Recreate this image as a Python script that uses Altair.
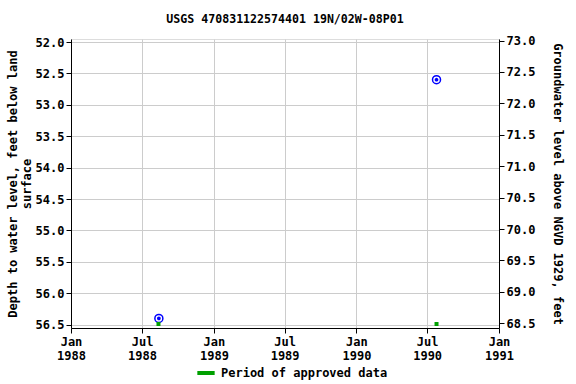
import altair as alt
import pandas as pd

dates = ["1988-08-13", "1990-07-25"]
depth = [56.40, 52.60]
approved_dates = ["1988-08-12", "1990-07-25"]
approved_label = ["Period of approved data", "Period of approved data"]
tick_dates = ["1988-01-01", "1988-07-01", "1989-01-01", "1989-07-01",
              "1990-01-01", "1990-07-01", "1991-01-01"]
left_ticks = [52.0, 52.5, 53.0, 53.5, 54.0, 54.5, 55.0, 55.5, 56.0, 56.5]
right_ticks = [73.0, 72.5, 72.0, 71.5, 71.0, 70.5, 70.0, 69.5, 69.0, 68.5]
datum_offset = 125.0

obs = pd.DataFrame({"date": pd.to_datetime(dates), "depth": depth})
obs["elev"] = datum_offset - obs["depth"]
appr = pd.DataFrame({"date": pd.to_datetime(approved_dates), "status": approved_label})

FONT = "DejaVu Sans Mono"
AX = dict(labelFont=FONT, labelFontSize=12, labelFontWeight="bold", labelColor="black",
          titleFont=FONT, titleFontSize=12, titleFontWeight="bold", titleColor="black",
          domainColor="black", tickColor="black", tickSize=5)

xdomain = [pd.Timestamp("1988-01-01").isoformat(), pd.Timestamp("1991-01-01").isoformat()]
tick_vals = [alt.DateTime(year=int(d[:4]), month=int(d[5:7]), date=1) for d in tick_dates]

xenc = alt.X("date:T", scale=alt.Scale(domain=xdomain),
             axis=alt.Axis(values=tick_vals, title=None,
                           labelExpr="[timeFormat(datum.value, '%b'), timeFormat(datum.value, '%Y')]",
                           labelAlign="center", labelFlush=False, labelBound=False,
                           grid=True, gridColor="#cccccc", labelPadding=3, **AX))

left_scale = alt.Scale(domain=[51.952, 56.553], zero=False, nice=False, reverse=True)
right_scale = alt.Scale(domain=[68.425, 73.024], zero=False, nice=False)

yleft = alt.Y("depth:Q", scale=left_scale,
              axis=alt.Axis(values=left_ticks, format=".1f",
                            title=["Depth to water level, feet below land", "surface"],
                            grid=True, gridColor="#cccccc", titlePadding=2, **AX))

base_points = alt.Chart(obs).mark_point(shape="circle", size=64, stroke="#0000ff",
                                        strokeWidth=1.5, filled=False, opacity=1).encode(
    x=xenc, y=yleft)
dots = alt.Chart(obs).mark_point(shape="circle", size=3, fill="#0000ff", stroke="#0000ff",
                                 filled=True, opacity=1).encode(x=xenc, y=yleft)

approved = alt.Chart(appr).mark_square(size=16, opacity=1).encode(
    x=xenc,
    y=alt.value(285),
    color=alt.Color("status:N", scale=alt.Scale(range=["#00a000"]),
                    legend=alt.Legend(title=None, orient="none", legendX=124, legendY=323,
                                      symbolType="stroke", symbolStrokeColor="#00a000",
                                      symbolStrokeWidth=4, symbolSize=300, labelLimit=400,
                                      labelFontSize=12, labelFont=FONT, labelFontWeight="bold",
                                      labelColor="black")),
)

right = alt.Chart(obs).mark_point(opacity=0).encode(
    x=xenc,
    y=alt.Y("elev:Q", scale=right_scale,
            axis=alt.Axis(orient="right", values=right_ticks, format=".1f",
                          title="Groundwater level above NGVD 1929, feet",
                          grid=False, titlePadding=16, **AX)),
)

left_layer = alt.layer(base_points, dots, approved)
chart = alt.layer(left_layer, right).resolve_scale(y="independent").properties(
    width=428, height=289,
    title=alt.TitleParams("USGS 470831122574401 19N/02W-08P01", fontSize=11.6, font=FONT,
                          fontWeight="bold", offset=9, anchor="middle", color="black"),
    autosize="none",
    padding={"left": 71, "top": 39, "right": 77, "bottom": 56},
).configure_view(stroke="black", strokeWidth=1).configure(background="white")

chart.save("out.html", embed_options={"renderer": "svg", "actions": False})
